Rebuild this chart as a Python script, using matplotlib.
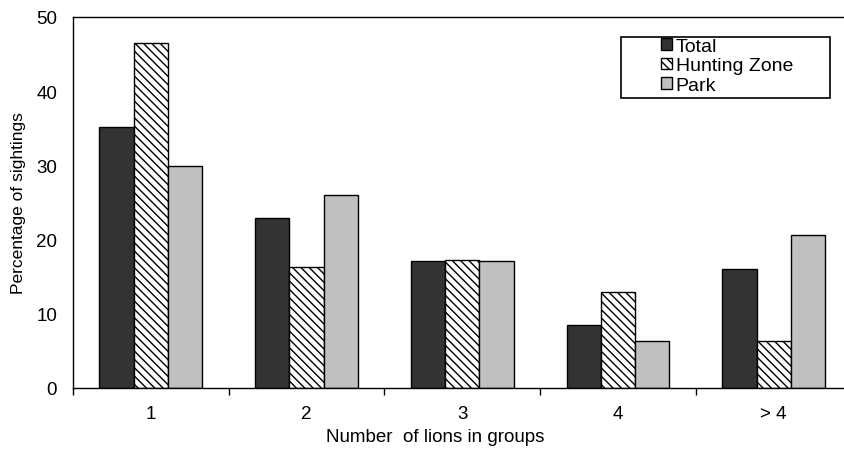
import matplotlib
matplotlib.use("Agg")
import matplotlib.pyplot as plt
import numpy as np
from matplotlib.patches import Rectangle

plt.rcParams['font.family'] = ['Liberation Sans', 'DejaVu Sans']
plt.rcParams['hatch.linewidth'] = 1.0

categories = ["1", "2", "3", "4", "> 4"]
series_names = ["Total", "Hunting Zone", "Park"]
total = [35.2, 22.9, 17.1, 8.5, 16.1]
hunting = [46.5, 16.3, 17.3, 13.0, 6.4]
park = [29.9, 26.0, 17.1, 6.4, 20.6]

W, H = 844, 452
fig = plt.figure(figsize=(W / 100, H / 100), dpi=100)
left, right, top, bottom = 73, 851.5, 18, 389
ax = fig.add_axes([left / W, (H - bottom) / H, (right - left) / W, (bottom - top) / H])

x = np.arange(len(categories))
bw = 0.22
styles = [
    dict(color="#333333", hatch=None),
    dict(color="white", hatch="\\\\\\\\"),
    dict(color="#c0c0c0", hatch=None),
]
bars = []
for i, (vals, st) in enumerate(zip([total, hunting, park], styles)):
    b = ax.bar(x + (i - 1) * bw, vals, width=bw, color=st["color"], edgecolor="black",
               linewidth=1.0, hatch=st["hatch"], label=series_names[i], zorder=2)
    bars.append(b)

ax.set_xlim(-0.5, len(categories) - 0.5)
ax.set_ylim(0, 50)
ax.set_yticks(range(0, 51, 10))
ax.tick_params(axis="y", length=0, pad=11.5, labelsize=13.5)
ax.set_xticks(x)
ax.set_xticklabels(categories)
ax.tick_params(axis="x", which="major", length=0, pad=12, labelsize=13.5)
ax.set_xticks(np.arange(-0.5, len(categories) - 0.4, 1.0), minor=True)
ax.tick_params(axis="x", which="minor", length=5, width=1, direction="out")

for s in ax.spines.values():
    s.set_linewidth(1.0)
ax.spines["right"].set_visible(False)

fig.text(435 / W, 1 - 438 / H, "Number  of lions in groups", fontsize=13.5,
         ha="center", va="center")
ax.set_ylabel("Percentage of sightings", fontsize=12.5, labelpad=7)

# legend box
fig.patches.append(Rectangle((621 / W, 1 - 99 / H), (830 - 621) / W, (99 - 38) / H,
                             transform=fig.transFigure, fill=False, edgecolor="black",
                             linewidth=1.2, zorder=5))
leg = fig.legend(handles=bars, labels=series_names, loc="upper left",
                 bbox_to_anchor=(661 / W, 1 - 39 / H), frameon=False, fontsize=14,
                 handlelength=0.55, handleheight=0.55, handletextpad=0.2,
                 labelspacing=0.12, borderpad=0.0, borderaxespad=0)

fig.savefig("out.png", dpi=100)
